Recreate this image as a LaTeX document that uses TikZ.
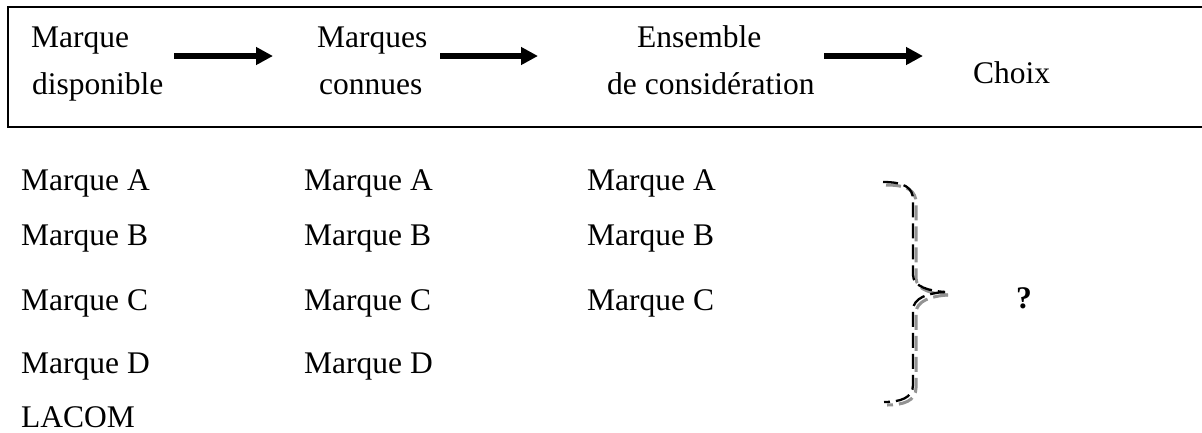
\documentclass[tikz,border=0pt]{standalone}
\usepackage{fontspec}
\setmainfont{Liberation Serif}
\usetikzlibrary{arrows.meta}
\begin{document}
\begin{tikzpicture}[x=1pt,y=-1pt,
  txt/.style={anchor=base west,inner sep=0pt,font=\fontsize{31.5}{38}\selectfont},
  flow/.style={line width=6pt,-{Triangle[length=17pt,width=17pt]}},
  bracestroke/.style={line width=2.3pt,dash pattern=on 15pt off 6pt},
  braceshadow/.style={line width=3pt,gray!85,dash pattern=on 15pt off 6pt}]
\clip (0,0) rectangle (1202,432);
\useasboundingbox (0,0) rectangle (1202,432);
\fill[white] (0,0) rectangle (1202,432);
% header box
\draw[line width=1.5pt] (1215,7) -- (8,7) -- (8,127) -- (1215,127);
% header texts
\node[txt] (h1a) at (31,47) {Marque};
\node[txt] (h1b) at (32,94) {disponible};
\node[txt] (h2a) at (317,47) {Marques};
\node[txt] (h2b) at (319,94) {connues};
\node[txt] (h3a) at (637,47) {Ensemble};
\node[txt] (h3b) at (607,94) {de considération};
\node[txt] (h4) at (973,83) {Choix};
% arrows
\coordinate (a1s) at (174,56); \coordinate (a1e) at (273,56);
\coordinate (a2s) at (440,56); \coordinate (a2e) at (538,56);
\coordinate (a3s) at (824,56); \coordinate (a3e) at (923,56);
\draw[flow] (a1s) -- (a1e);
\draw[flow] (a2s) -- (a2e);
\draw[flow] (a3s) -- (a3e);
% column 1
\node[txt] (c1a) at (21,190) {Marque A};
\node[txt] (c1b) at (21,245) {Marque B};
\node[txt] (c1c) at (21,310) {Marque C};
\node[txt] (c1d) at (21,373) {Marque D};
\node[txt] (c1e) at (21,427) {LACOM};
% column 2
\node[txt] (c2a) at (304,190) {Marque A};
\node[txt] (c2b) at (304,245) {Marque B};
\node[txt] (c2c) at (304,310) {Marque C};
\node[txt] (c2d) at (304,373) {Marque D};
% column 3
\node[txt] (c3a) at (587,190) {Marque A};
\node[txt] (c3b) at (587,245) {Marque B};
\node[txt] (c3c) at (587,310) {Marque C};
% brace
\begin{scope}[shift={(3,3)}]
\draw[braceshadow] (883,182) .. controls (905,182) and (913,188) .. (913,200)
  -- (913,275) .. controls (913,287) and (930,291) .. (945,292);
\draw[braceshadow] (945,292) .. controls (928,293) and (913,298) .. (913,310)
  -- (913,385) .. controls (913,398) and (900,402) .. (884,402);
\end{scope}
\draw[bracestroke] (883,182) .. controls (905,182) and (913,188) .. (913,200)
  -- (913,275) .. controls (913,287) and (930,291) .. (945,292);
\draw[bracestroke] (945,292) .. controls (928,293) and (913,298) .. (913,310)
  -- (913,385) .. controls (913,398) and (900,402) .. (884,402);
\node[txt,font=\fontsize{31.5}{38}\selectfont\bfseries] (q) at (1016,308) {?};
\end{tikzpicture}
\end{document}
